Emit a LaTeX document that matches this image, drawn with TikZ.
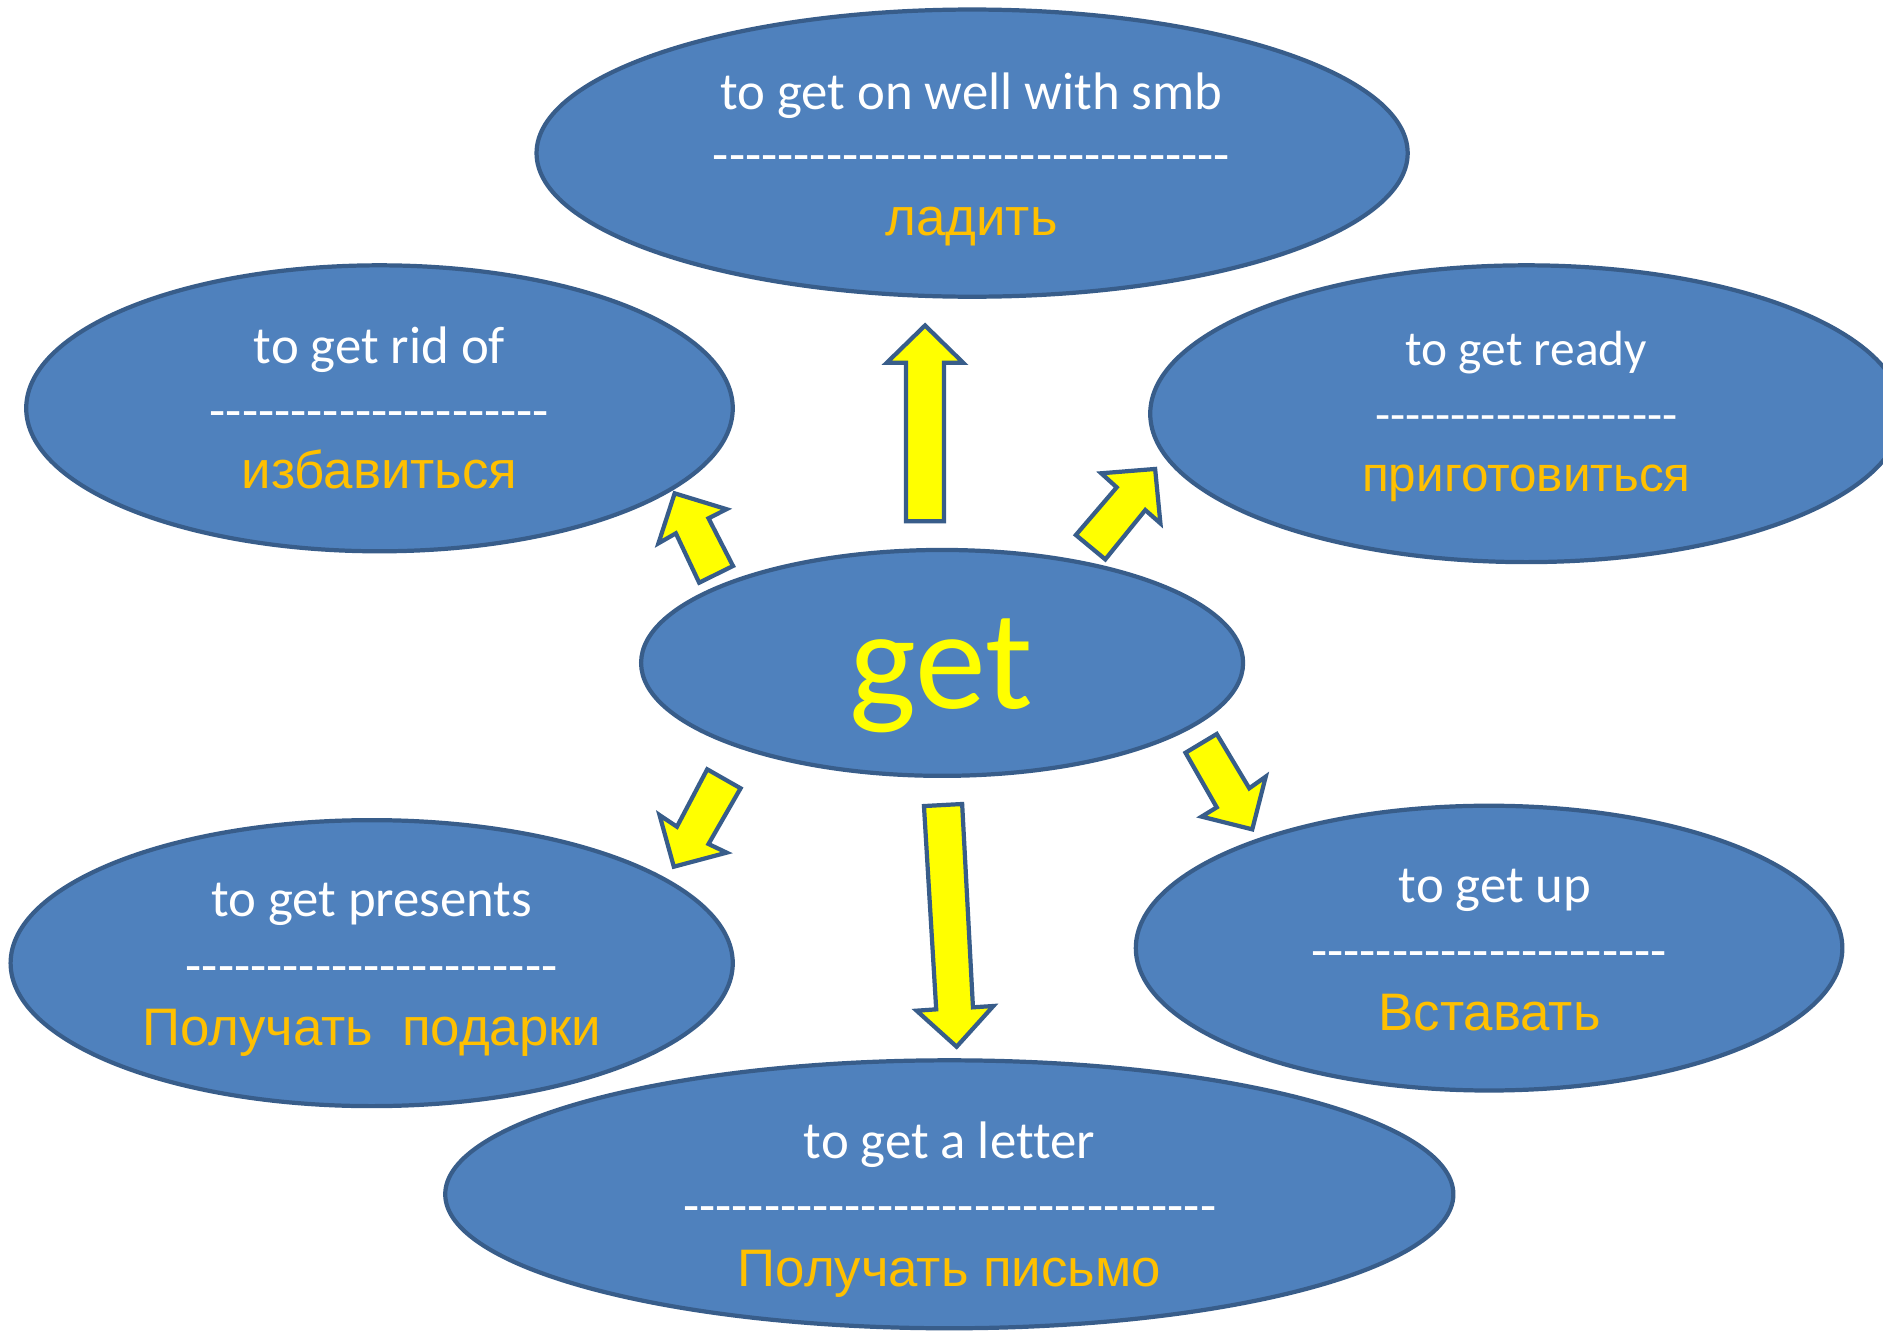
\documentclass[tikz,border=0pt]{standalone}
\usepackage{fontspec}
\newfontfamily\enfont[Ligatures=CommonOff]{Carlito}
\newfontfamily\rufont{Liberation Sans}
\usetikzlibrary{shapes.geometric}
\definecolor{bfill}{HTML}{4F81BD}
\definecolor{bline}{HTML}{385D8A}
\definecolor{yel}{HTML}{FFFF00}
\definecolor{gold}{HTML}{FFC000}
\newcommand\dashrow[1]{\foreach \i in {1,...,#1}{-\kern0pt}}
\tikzset{
  bubble/.style={ellipse, draw=bline, fill=bfill, line width=1pt, inner sep=0pt},
  entext/.style={anchor=base, text=white, inner sep=0pt, font=\enfont\fontsize{12.5}{15}\selectfont},
  rutext/.style={anchor=base, text=gold, inner sep=0pt, font=\rufont\fontsize{12.5}{15}\selectfont},
  smallen/.style={entext, font=\enfont\fontsize{11.7}{14}\selectfont},
  smallru/.style={rutext, font=\rufont\fontsize{11.7}{14}\selectfont},
  gettext/.style={anchor=base, text=yel, inner sep=0pt, font=\enfont\fontsize{33.6}{40}\selectfont},
  blockarrow/.style={draw=bline, fill=yel, line width=1pt, line join=miter},
}
\begin{document}
\begin{tikzpicture}[x=0.01cm,y=-0.01cm]
\useasboundingbox (0,0) rectangle (1568,1117);
\clip (0,0) rectangle (1568,1117);
\fill[white] (0,0) rectangle (1568,1117);

% bubbles
\node[bubble, minimum width=7.25cm, minimum height=2.39cm] (well) at (809.5,127.5) {};
\node[bubble, minimum width=5.88cm, minimum height=2.38cm] (rid) at (316,340) {};
\node[bubble, minimum width=6.26cm, minimum height=2.47cm] (ready) at (1271,344.5) {};
\node[bubble, minimum width=5.01cm, minimum height=1.88cm] (get) at (784.5,552) {};
\node[bubble, minimum width=6.01cm, minimum height=2.38cm] (presents) at (309.5,802) {};
\node[bubble, minimum width=5.88cm, minimum height=2.37cm] (up) at (1240,789.5) {};
\node[bubble, minimum width=8.39cm, minimum height=2.23cm] (letter) at (790.5,994.5) {};

% texts
\node[entext] (wellE) at (809,91) {to get on well with smb};
\node[entext] (wellD) at (809,144) {\dashrow{32}};
\node[rutext] (wellR) at (809,196) {ладить};

\node[entext] (ridE) at (316,302.5) {to get rid of};
\node[entext] (ridD) at (316,357) {\dashrow{21}};
\node[rutext] (ridR) at (316,406.6) {избавиться};

\node[smallen] (readyE) at (1271,304) {to get ready};
\node[smallen] (readyD) at (1271,359) {\dashrow{20}};
\node[smallru] (readyR) at (1271,409.4) {приготовиться};

\node[gettext] (getT) at (783.5,590) {get};

\node[entext] (presE) at (309.5,763.3) {to get presents};
\node[entext] (presD) at (309.5,819) {\dashrow{23}};
\node[rutext] (presR) at (309.5,871) {Получать\ \ подарки};

\node[entext] (upE) at (1245,751.7) {to get up};
\node[entext] (upD) at (1240,806.5) {\dashrow{22}};
\node[rutext] (upR) at (1240.5,857.7) {Вставать};

\node[entext] (letE) at (790.5,964.6) {to get a letter};
\node[entext] (letD) at (791,1018.8) {\dashrow{33}};
\node[rutext] (letR) at (790.5,1070.9) {Получать письмо};

% block arrows
\draw[blockarrow] (770.3,271) -- (802,302) -- (786,302) -- (786,434) -- (754.5,434) -- (754.5,302) -- (738.5,302) -- cycle;
\draw[blockarrow] (561.8,410.8) -- (605,424) -- (590,431.6) -- (610.4,471.3) -- (582.2,485.2) -- (562.8,444.1) -- (548.3,452.4) -- cycle;
\draw[blockarrow] (961.9,390.5) -- (966.3,435.8) -- (953.7,424.7) -- (920.4,465.8) -- (895.9,445.5) -- (929.9,405.8) -- (917,394.1) -- cycle;
\draw[blockarrow] (588.9,640.6) -- (616.7,656.4) -- (590,702.8) -- (605.1,710) -- (561.1,721.7) -- (549.2,678.7) -- (563.7,688.4) -- cycle;
\draw[blockarrow] (769.4,671.2) -- (801.2,669.5) -- (810.2,838.8) -- (827.2,837.7) -- (796.6,871.6) -- (763.3,841.6) -- (779.6,840.5) -- cycle;
\draw[blockarrow] (987.2,626.8) -- (1013.2,611.2) -- (1040.3,656.4) -- (1054,646.7) -- (1042.8,690.6) -- (1000.6,680) -- (1013.2,672.3) -- cycle;
\end{tikzpicture}
\end{document}
